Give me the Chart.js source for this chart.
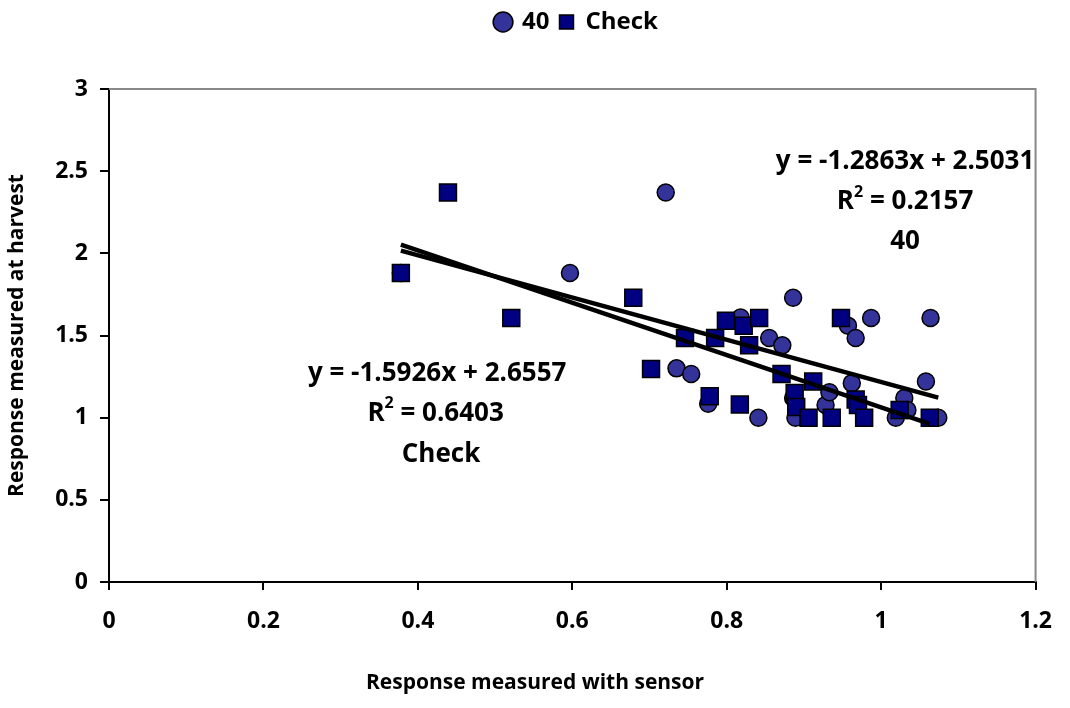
<!DOCTYPE html>
<html>
<head>
<meta charset="utf-8">
<script src="https://cdn.jsdelivr.net/npm/chart.js@4"></script>
<style>
body { margin: 0; background: #fff; }
</style>
</head>
<body>
<canvas id="canvas" width="1070" height="708"></canvas>
<script>
// "40" series (circles)
var x40 = [0.378, 0.597, 0.721, 0.735, 0.754, 0.776, 0.818, 0.841, 0.855, 0.872, 0.886, 0.886, 0.889,
           0.928, 0.933, 0.957, 0.962, 0.967, 0.987, 1.019, 1.030, 1.034, 1.058, 1.064, 1.074];
var y40 = [1.88, 1.88, 2.37, 1.30, 1.266, 1.085, 1.61, 1.00, 1.485, 1.44, 1.73, 1.12, 1.00,
           1.077, 1.155, 1.56, 1.21, 1.485, 1.607, 1.00, 1.12, 1.047, 1.22, 1.607, 1.00];

// "Check" series (squares)
var xCheck = [0.378, 0.439, 0.521, 0.679, 0.702, 0.746, 0.778, 0.785, 0.799, 0.817, 0.822, 0.829, 0.842,
              0.871, 0.888, 0.890, 0.906, 0.912, 0.936, 0.948, 0.967, 0.970, 0.978, 1.024, 1.063];
var yCheck = [1.88, 2.37, 1.607, 1.73, 1.296, 1.485, 1.13, 1.485, 1.59, 1.08, 1.56, 1.44, 1.607,
              1.266, 1.15, 1.065, 1.00, 1.22, 1.00, 1.607, 1.11, 1.077, 1.00, 1.047, 1.00];

// trendlines as printed on the chart
var slope40 = -1.2863, intercept40 = 2.5031, r2_40 = '0.2157';
var slopeCheck = -1.5926, interceptCheck = 2.6557, r2_Check = '0.6403';

var xTickLabels = ['0', '0.2', '0.4', '0.6', '0.8', '1', '1.2'];
var yTickLabels = ['0', '0.5', '1', '1.5', '2', '2.5', '3'];

function points(xs, ys) {
  return xs.map(function (x, i) { return { x: x, y: ys[i] }; });
}
function trend(xs, m, b) {
  var lo = Math.min.apply(null, xs), hi = Math.max.apply(null, xs);
  return [{ x: lo, y: m * lo + b }, { x: hi, y: m * hi + b }];
}

var FONT = '"Open Sans"';

// draw a centered line of text, sup parts are superscript
function drawLine(ctx, parts, cx, cy, size) {
  var big = 'bold ' + size + 'px ' + FONT;
  var small = 'bold ' + Math.round(size * 0.62) + 'px ' + FONT;
  var w = 0;
  parts.forEach(function (p) {
    ctx.font = p.sup ? small : big;
    w += ctx.measureText(p.t).width;
  });
  var x = cx - w / 2;
  ctx.textBaseline = 'middle';
  ctx.textAlign = 'left';
  parts.forEach(function (p) {
    ctx.font = p.sup ? small : big;
    ctx.fillText(p.t, x, p.sup ? cy - size * 0.38 : cy);
    x += ctx.measureText(p.t).width;
  });
}

var extras = {
  id: 'extras',
  beforeUpdate: function (chart) {
    var lg = chart.legend;
    if (lg && !lg._patched) {
      var fit = lg.fit;
      lg.fit = function () { fit.call(this); this.height = 89; };
      lg._patched = true;
    }
  },
  afterUpdate: function (chart) {
    var lg = chart.legend;
    lg.left = 84; lg.right = 1070;
    lg.adjustHitBoxes();
  },
  beforeDatasetsDraw: function (chart) {
    var a = chart.chartArea, ctx = chart.ctx;
    ctx.save();
    ctx.strokeStyle = '#888';
    ctx.lineWidth = 2;
    ctx.beginPath();
    ctx.moveTo(a.left, a.top);
    ctx.lineTo(a.right, a.top);
    ctx.lineTo(a.right, a.bottom);
    ctx.stroke();
    ctx.restore();
  },
  afterDraw: function (chart) {
    var ctx = chart.ctx, sx = chart.scales.x, sy = chart.scales.y;
    ctx.save();
    ctx.fillStyle = '#000';
    // x axis title, centred on the page as in the original
    drawLine(ctx, [{ t: 'Response measured with sensor' }], chart.width / 2, 683, 21);
    var cx = sx.getPixelForValue(1.031);
    drawLine(ctx, [{ t: 'y = ' + slope40 + 'x + ' + intercept40 }], cx, sy.getPixelForValue(2.556), 26);
    drawLine(ctx, [{ t: 'R' }, { t: '2', sup: true }, { t: ' = ' + r2_40 }], cx, sy.getPixelForValue(2.313), 26);
    drawLine(ctx, [{ t: '40' }], cx, sy.getPixelForValue(2.07), 26);
    cx = sx.getPixelForValue(0.425);
    drawLine(ctx, [{ t: 'y = ' + slopeCheck + 'x + ' + interceptCheck }], cx, sy.getPixelForValue(1.27), 26);
    drawLine(ctx, [{ t: 'R' }, { t: '2', sup: true }, { t: ' = ' + r2_Check }], sx.getPixelForValue(0.423), sy.getPixelForValue(1.025), 26);
    drawLine(ctx, [{ t: 'Check' }], sx.getPixelForValue(0.43), sy.getPixelForValue(0.773), 26);
    ctx.restore();
  }
};

var tickFont = { family: FONT, size: 23, weight: 'bold' };
var titleFont = { family: FONT, size: 21, weight: 'bold' };

var ctx = document.getElementById('canvas').getContext('2d');
var myChart = new Chart(ctx, {
  type: 'scatter',
  data: {
    datasets: [{
      label: '40',
      data: points(x40, y40),
      pointStyle: 'circle',
      pointRadius: 8.5,
      backgroundColor: '#333399',
      borderColor: '#000',
      borderWidth: 1.5,
      order: 2
    }, {
      label: 'Check',
      data: points(xCheck, yCheck),
      pointStyle: 'rect',
      pointRadius: 12,
      backgroundColor: '#000080',
      borderColor: '#000',
      borderWidth: 1.5,
      order: 1
    }, {
      label: 'trend40',
      data: trend(x40, slope40, intercept40),
      showLine: true,
      pointRadius: 0,
      borderColor: '#000',
      borderWidth: 4.5,
      order: 0
    }, {
      label: 'trendCheck',
      data: trend(xCheck, slopeCheck, interceptCheck),
      showLine: true,
      pointRadius: 0,
      borderColor: '#000',
      borderWidth: 4.5,
      order: 0
    }]
  },
  options: {
    responsive: false,
    animation: false,
    layout: { padding: 0 },
    plugins: {
      legend: {
        position: 'top',
        labels: {
          usePointStyle: true,
          boxWidth: 14,
          boxHeight: 14,
          padding: 10,
          color: '#000',
          font: { family: FONT, size: 24, weight: 'bold' },
          filter: function (item) { return item.datasetIndex < 2; },
          sort: function (a, b) { return a.datasetIndex - b.datasetIndex; }
        }
      },
      tooltip: { enabled: false }
    },
    scales: {
      x: {
        type: 'linear',
        min: 0,
        max: 1.2,
        afterFit: function (s) { s.height = 126; },
        border: { color: '#000', width: 2 },
        grid: { drawOnChartArea: false, drawTicks: true, tickLength: 8, color: '#000', lineWidth: 2 },
        ticks: {
          stepSize: 0.2,
          padding: 18,
          color: '#000',
          font: tickFont,
          maxRotation: 0,
          callback: function (v, i) { return xTickLabels[i]; }
        },
        title: { display: false }
      },
      y: {
        min: 0,
        max: 3,
        afterFit: function (s) { s.width = 109; },
        border: { color: '#000', width: 2 },
        grid: { drawOnChartArea: false, drawTicks: true, tickLength: 9, color: '#000', lineWidth: 2 },
        ticks: {
          stepSize: 0.5,
          padding: 12,
          color: '#000',
          font: tickFont,
          callback: function (v, i) { return yTickLabels[i]; }
        },
        title: { display: true, text: 'Response measured at harvest', color: '#000', font: titleFont, padding: { top: 4, bottom: 0 } }
      }
    }
  },
  plugins: [extras]
});
</script>
</body>
</html>
